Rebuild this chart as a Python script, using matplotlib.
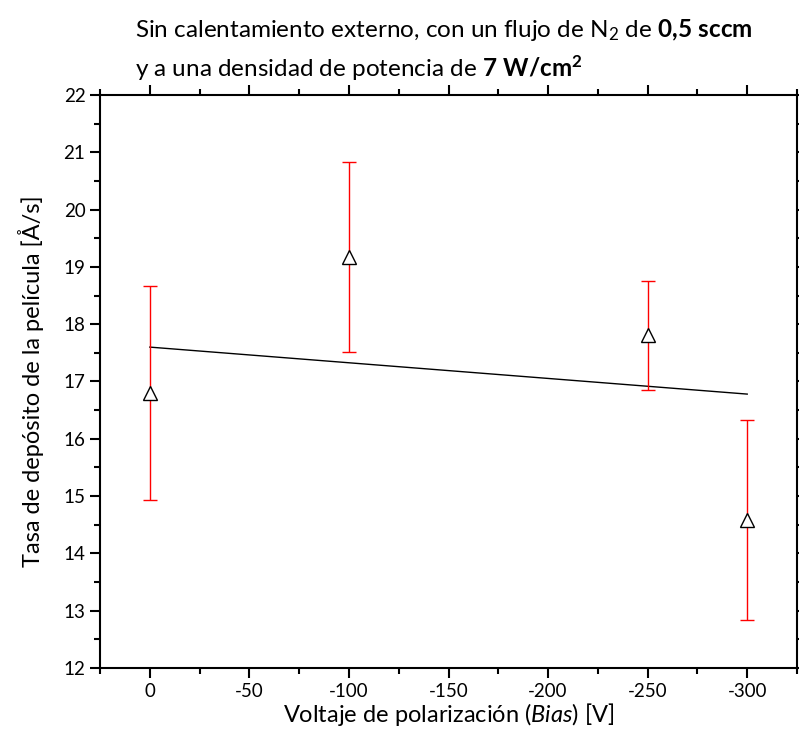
import matplotlib
matplotlib.use("Agg")
import matplotlib.pyplot as plt
from matplotlib.ticker import MultipleLocator

# ================= DATA =================
bias_v = [0, -100, -250, -300]
rate = [16.80, 19.17, 17.81, 14.58]
rate_err = [1.87, 1.66, 0.95, 1.75]

# linear fit line (endpoints)
fit_x = [0, -300]
fit_y = [17.60, 16.78]

# ================= STYLE =================
FONT = "Lato"
plt.rcParams["font.family"] = FONT
plt.rcParams["axes.unicode_minus"] = False
plt.rcParams["mathtext.fontset"] = "custom"
plt.rcParams["mathtext.rm"] = FONT
plt.rcParams["mathtext.it"] = FONT + ":italic"
plt.rcParams["mathtext.bf"] = FONT + ":bold"

fig = plt.figure(figsize=(7.99, 7.52), dpi=100)
ax = fig.add_axes([0.1252, 0.1117, 0.8723, 0.762])

ax.plot(fit_x, fit_y, color="black", lw=1, zorder=2)

ax.errorbar(bias_v, rate, yerr=rate_err, fmt="none", ecolor="red",
            elinewidth=1, capsize=5, capthick=1, zorder=3)
ax.plot(bias_v, rate, linestyle="none", marker="^", markersize=10,
        markerfacecolor="white", markeredgecolor="black",
        markeredgewidth=1, zorder=4)

ax.set_xlim(25, -325)
ax.set_ylim(12, 22)
ax.xaxis.set_minor_locator(MultipleLocator(25))
ax.yaxis.set_major_locator(MultipleLocator(1))
ax.yaxis.set_minor_locator(MultipleLocator(0.5))
ax.set_xticks(range(0, -301, -50))

ax.tick_params(which="both", direction="out", top=True, right=True,
               width=1.5, labelsize=13.5)
ax.tick_params(which="major", length=7)
ax.tick_params(which="minor", length=4)
for s in ax.spines.values():
    s.set_linewidth(1.5)

ax.set_xlabel(r"Voltaje de polarización ($\mathit{Bias}$) [V]",
              fontsize=17, labelpad=1)
ax.set_ylabel("Tasa de depósito de la película [Å/s]", fontsize=17, labelpad=14)

fig.text(0.169, 0.951,
         r"Sin calentamiento externo, con un flujo de N$_2$ de $\mathbf{0{,}5\ sccm}$",
         fontsize=17.5, ha="left", va="baseline")
fig.text(0.169, 0.898,
         r"y a una densidad de potencia de $\mathbf{7\ W/cm^2}$",
         fontsize=17.5, ha="left", va="baseline")

fig.savefig("out.png", dpi=100)
